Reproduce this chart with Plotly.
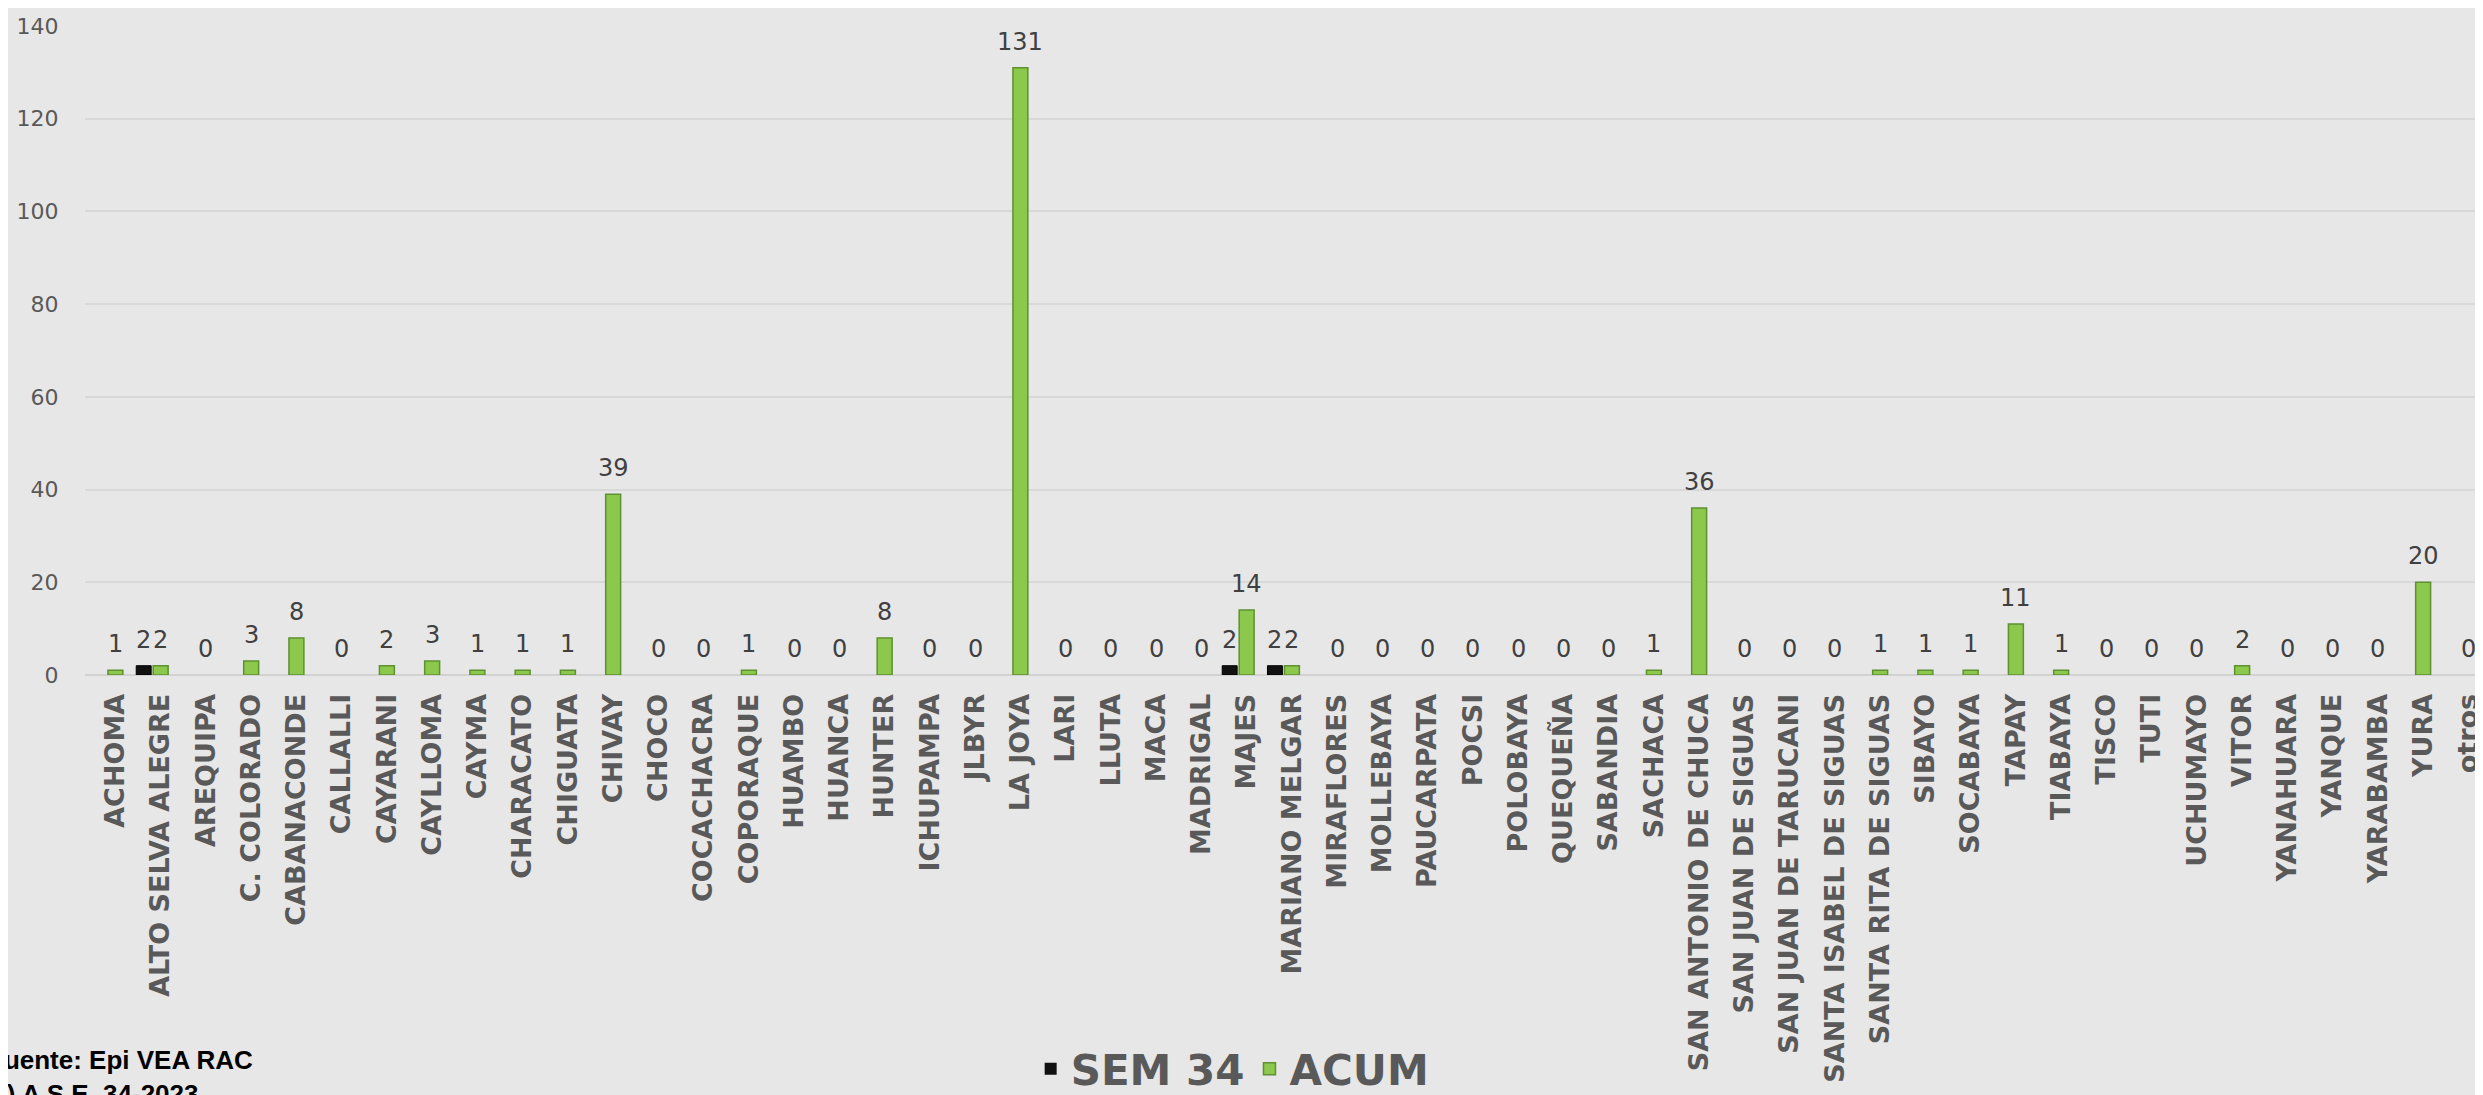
import plotly.graph_objects as go

categories = [
    "ACHOMA", "ALTO SELVA ALEGRE", "AREQUIPA", "C. COLORADO", "CABANACONDE",
    "CALLALLI", "CAYARANI", "CAYLLOMA", "CAYMA", "CHARACATO", "CHIGUATA",
    "CHIVAY", "CHOCO", "COCACHACRA", "COPORAQUE", "HUAMBO", "HUANCA", "HUNTER",
    "ICHUPAMPA", "JLBYR", "LA JOYA", "LARI", "LLUTA", "MACA", "MADRIGAL",
    "MAJES", "MARIANO MELGAR", "MIRAFLORES", "MOLLEBAYA", "PAUCARPATA", "POCSI",
    "POLOBAYA", "QUEQUEÑA", "SABANDIA", "SACHACA", "SAN ANTONIO DE CHUCA",
    "SAN JUAN DE SIGUAS", "SAN JUAN DE TARUCANI", "SANTA ISABEL DE SIGUAS",
    "SANTA RITA DE SIGUAS", "SIBAYO", "SOCABAYA", "TAPAY", "TIABAYA", "TISCO",
    "TUTI", "UCHUMAYO", "VITOR", "YANAHUARA", "YANQUE", "YARABAMBA", "YURA",
    "otros",
]

sem34 = [0, 2, 0, 0, 0, 0, 0, 0, 0, 0, 0, 0, 0, 0, 0, 0, 0, 0, 0, 0, 0, 0, 0,
         0, 0, 2, 2, 0, 0, 0, 0, 0, 0, 0, 0, 0, 0, 0, 0, 0, 0, 0, 0, 0, 0, 0,
         0, 0, 0, 0, 0, 0, 0]

acum = [1, 2, 0, 3, 8, 0, 2, 3, 1, 1, 1, 39, 0, 0, 1, 0, 0, 8, 0, 0, 131, 0,
        0, 0, 0, 14, 2, 0, 0, 0, 0, 0, 0, 0, 1, 36, 0, 0, 0, 1, 1, 1, 11, 1,
        0, 0, 0, 2, 0, 0, 0, 20, 0]

y_ticks = [0, 20, 40, 60, 80, 100, 120, 140]

FONT = "DejaVu Sans"
BAR_W = 0.33

fig = go.Figure()
fig.add_trace(go.Bar(
    name="SEM 34", x=categories, y=sem34,
    offset=-0.54, width=BAR_W,
    marker=dict(color="#111111",
                line=dict(color="#000000", width=[1 if v else 0 for v in sem34])),
))
fig.add_trace(go.Bar(
    name="ACUM", x=categories, y=acum,
    offset=-BAR_W / 2, width=BAR_W,
    marker=dict(color="#8CC84B",
                line=dict(color="#5E9130", width=[1.5 if v else 0 for v in acum])),
))

annotations = []
for c, v in zip(categories, acum):
    annotations.append(dict(
        x=c, y=v, xref="x", yref="y", text=str(v), showarrow=False,
        yanchor="bottom", yshift=10,
        font=dict(family=FONT, size=24, color="#404040"),
    ))
for c, v in zip(categories, sem34):
    if v:
        annotations.append(dict(
            x=c, y=v, xref="x", yref="y", text=str(v), showarrow=False,
            yanchor="bottom", yshift=10, xshift=-17,
            font=dict(family=FONT, size=24, color="#404040"),
        ))

annotations.append(dict(
    xref="paper", yref="paper", x=-0.041, y=-0.567,
    xanchor="left", yanchor="top", align="left", showarrow=False,
    text="Fuente: Epi VEA RAC<br>(*) A S.E. 34-2023",
    font=dict(family="Liberation Sans", size=26, color="#000000", weight="bold"),
))

fig.update_layout(
    width=2483, height=1095,
    margin=dict(l=77, r=0, t=18, b=427),
    paper_bgcolor="#E7E7E7", plot_bgcolor="#E7E7E7",
    barmode="overlay",
    showlegend=True,
    legend=dict(
        orientation="h", x=0.477, xanchor="center", y=-0.607, yanchor="middle",
        font=dict(family=FONT, size=42, color="#595959", weight="bold"),
        bgcolor="rgba(0,0,0,0)", itemwidth=30,
    ),
    annotations=annotations,
    xaxis=dict(
        type="category", range=[-0.672, 52.5],
        tickangle=-90, ticks="outside", ticklen=7, tickcolor="rgba(0,0,0,0)",
        tickfont=dict(family=FONT, size=27, color="#595959", weight="bold"),
        showgrid=False, showline=False, zeroline=False,
    ),
    yaxis=dict(
        range=[0, 140], tickvals=y_ticks,
        ticks="outside", ticklen=21, tickcolor="rgba(0,0,0,0)",
        tickfont=dict(family=FONT, size=22, color="#595959"),
        showgrid=True, gridcolor="#D8D8D8", gridwidth=2,
        zeroline=True, zerolinecolor="#D2D2D2", zerolinewidth=2,
        showline=False,
    ),
)

fig.write_html("out.html")
